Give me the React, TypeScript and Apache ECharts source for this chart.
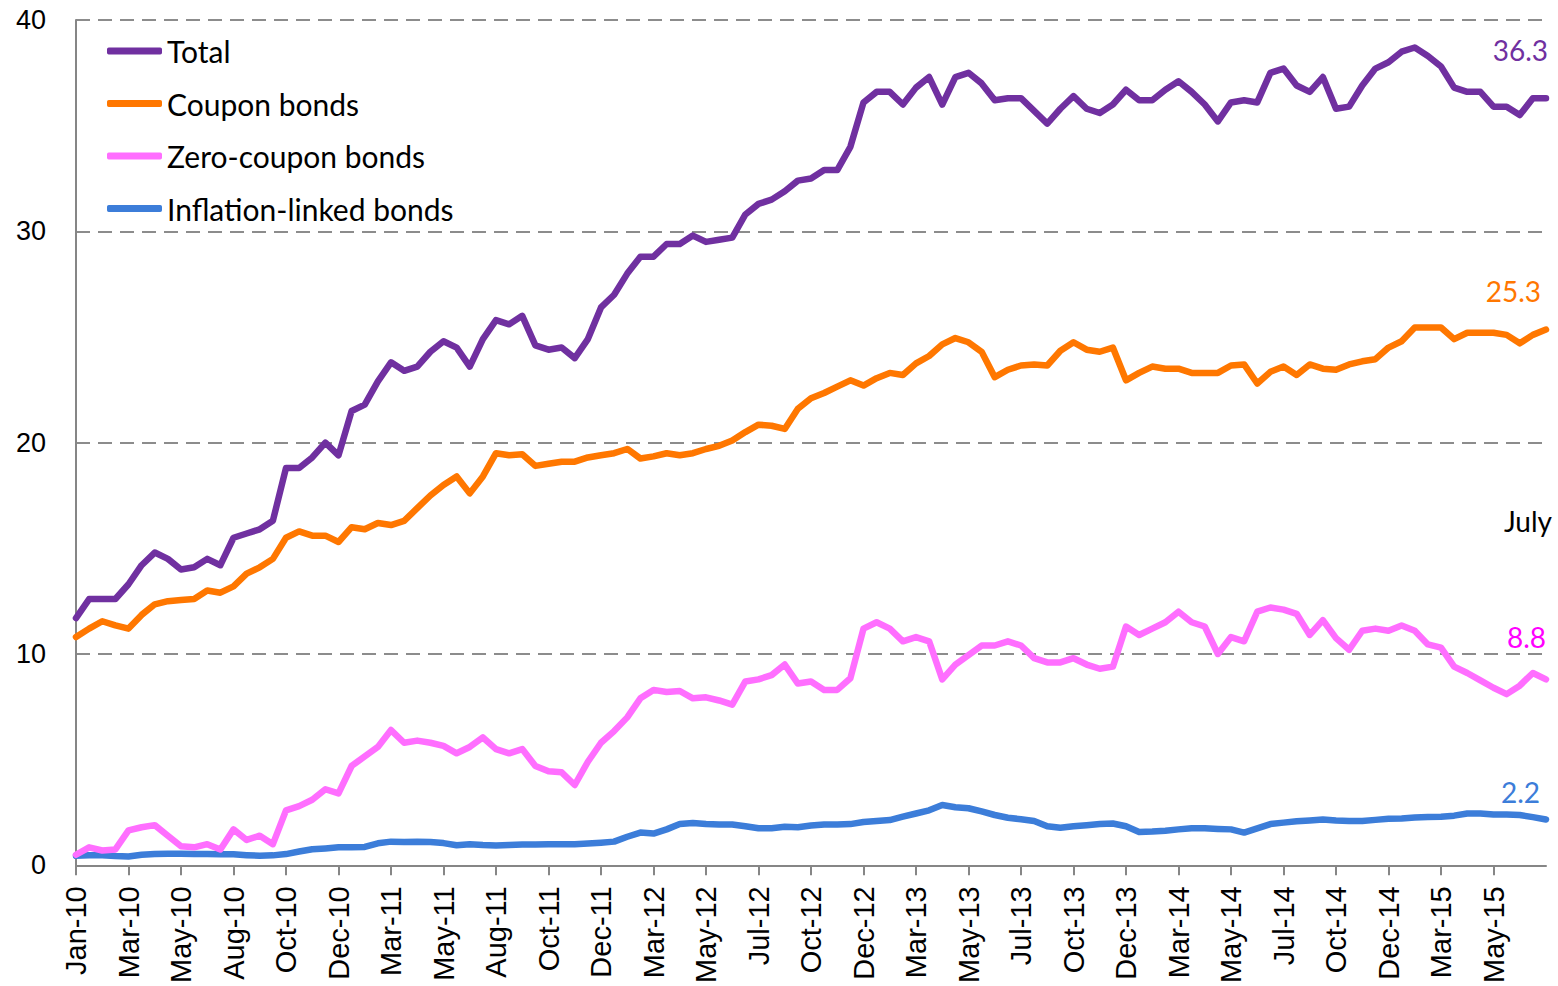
import React, { useEffect, useRef } from "react";
import * as echarts from "echarts";

const tickLabels = [
  "Jan-10", "Mar-10", "May-10", "Aug-10", "Oct-10", "Dec-10", "Mar-11", "May-11",
  "Aug-11", "Oct-11", "Dec-11", "Mar-12", "May-12", "Jul-12", "Oct-12", "Dec-12",
  "Mar-13", "May-13", "Jul-13", "Oct-13", "Dec-13", "Mar-14", "May-14", "Jul-14",
  "Oct-14", "Dec-14", "Mar-15", "May-15",
];

const seriesNames = ["Total", "Coupon bonds", "Zero-coupon bonds", "Inflation-linked bonds"];
const seriesColors = ["#7030A0", "#FF7700", "#FF6EFF", "#3C7DD9"];
const endLabels = ["36.3", "25.3", "8.8", "2.2"];
const endLabelColors = ["#7030A0", "#FF7700", "#FF00FF", "#3C7DD9"];

const total = [
  11.7, 12.6, 12.6, 12.6, 13.3, 14.2, 14.8, 14.5, 14.0, 14.1,
  14.5, 14.2, 15.5, 15.7, 15.9, 16.3, 18.8, 18.8, 19.3, 20.0,
  19.4, 21.5, 21.8, 22.9, 23.8, 23.4, 23.6, 24.3, 24.8, 24.5,
  23.6, 24.9, 25.8, 25.6, 26.0, 24.6, 24.4, 24.5, 24.0, 24.9,
  26.4, 27.0, 28.0, 28.8, 28.8, 29.4, 29.4, 29.8, 29.5, 29.6,
  29.7, 30.8, 31.3, 31.5, 31.9, 32.4, 32.5, 32.9, 32.9, 34.0,
  36.1, 36.6, 36.6, 36.0, 36.8, 37.3, 36.0, 37.3, 37.5, 37.0,
  36.2, 36.3, 36.3, 35.7, 35.1, 35.8, 36.4, 35.8, 35.6, 36.0,
  36.7, 36.2, 36.2, 36.7, 37.1, 36.6, 36.0, 35.2, 36.1, 36.2,
  36.1, 37.5, 37.7, 36.9, 36.6, 37.3, 35.8, 35.9, 36.9, 37.7,
  38.0, 38.5, 38.7, 38.3, 37.8, 36.8, 36.6, 36.6, 35.9, 35.9,
  35.5, 36.3, 36.3,
];

const coupon = [
  10.8, 11.2, 11.55, 11.35, 11.2, 11.85, 12.35, 12.5, 12.55, 12.6,
  13.0, 12.9, 13.2, 13.8, 14.1, 14.5, 15.5, 15.8, 15.6, 15.6,
  15.3, 16.0, 15.9, 16.2, 16.1, 16.3, 16.9, 17.5, 18.0, 18.4,
  17.6, 18.4, 19.5, 19.4, 19.45, 18.9, 19.0, 19.1, 19.1, 19.3,
  19.4, 19.5, 19.7, 19.25, 19.35, 19.5, 19.4, 19.5, 19.7, 19.85,
  20.1, 20.5, 20.85, 20.8, 20.65, 21.6, 22.1, 22.35, 22.65, 22.95,
  22.7, 23.05, 23.3, 23.2, 23.75, 24.1, 24.65, 24.95, 24.75, 24.3,
  23.1, 23.45, 23.65, 23.7, 23.65, 24.35, 24.75, 24.4, 24.3, 24.5,
  22.95, 23.3, 23.6, 23.5, 23.5, 23.3, 23.3, 23.3, 23.65, 23.7,
  22.8, 23.35, 23.6, 23.2, 23.7, 23.5, 23.45, 23.7, 23.85, 23.95,
  24.5, 24.8, 25.45, 25.45, 25.45, 24.9, 25.2, 25.2, 25.2, 25.1,
  24.7, 25.1, 25.35,
];

const zeroCoupon = [
  0.5, 0.85, 0.7, 0.75, 1.65, 1.8, 1.9, 1.4, 0.9, 0.85,
  1.0, 0.75, 1.7, 1.2, 1.4, 1.0, 2.6, 2.8, 3.1, 3.6,
  3.4, 4.7, 5.15, 5.6, 6.4, 5.8, 5.9, 5.8, 5.65, 5.3,
  5.6, 6.05, 5.5, 5.3, 5.5, 4.7, 4.45, 4.4, 3.8, 4.9,
  5.8, 6.35, 7.0, 7.9, 8.3, 8.2, 8.25, 7.9, 7.95, 7.8,
  7.6, 8.7, 8.8, 9.0, 9.5, 8.6, 8.7, 8.3, 8.3, 8.85,
  11.2, 11.5, 11.2, 10.6, 10.8, 10.6, 8.8, 9.5, 9.95, 10.4,
  10.4, 10.6, 10.4, 9.8, 9.6, 9.6, 9.8, 9.5, 9.3, 9.4,
  11.3, 10.9, 11.2, 11.5, 12.0, 11.5, 11.3, 10.0, 10.8, 10.6,
  12.0, 12.2, 12.1, 11.9, 10.9, 11.6, 10.75, 10.2, 11.1, 11.2,
  11.1, 11.35, 11.1, 10.45, 10.3, 9.4, 9.1, 8.75, 8.4, 8.1,
  8.5, 9.1, 8.8,
];

const inflationLinked = [
  0.45, 0.47, 0.48, 0.44, 0.42, 0.5, 0.53, 0.55, 0.55, 0.54,
  0.53, 0.52, 0.52, 0.48, 0.45, 0.47, 0.53, 0.65, 0.76, 0.8,
  0.85, 0.85, 0.87, 1.04, 1.12, 1.1, 1.12, 1.1, 1.05, 0.95,
  1.0, 0.96, 0.94, 0.96, 0.98, 0.98, 1.0, 1.0, 1.0, 1.03,
  1.07, 1.12, 1.35, 1.55, 1.5, 1.7, 1.95, 2.0, 1.95, 1.93,
  1.93, 1.85, 1.75, 1.75, 1.82, 1.8, 1.88, 1.93, 1.93, 1.95,
  2.05, 2.1, 2.14, 2.3, 2.45, 2.6, 2.85, 2.75, 2.7, 2.55,
  2.38, 2.25, 2.18, 2.1, 1.85, 1.78, 1.85, 1.9, 1.95, 1.98,
  1.85, 1.58, 1.6, 1.64, 1.7, 1.75, 1.75, 1.72, 1.7, 1.55,
  1.75, 1.95, 2.02, 2.08, 2.12, 2.17, 2.12, 2.1, 2.1, 2.15,
  2.2, 2.22, 2.26, 2.28, 2.3, 2.35, 2.45, 2.45, 2.4, 2.4,
  2.38, 2.28, 2.17,
];

const STEP = 4; // data points per labelled tick interval

export default function App() {
  const ref = useRef<HTMLDivElement>(null);

  useEffect(() => {
    document.body.style.margin = "0";
    document.body.style.overflow = "hidden";
    document.documentElement.style.overflow = "hidden";
    if (!ref.current) return;
    const chart = echarts.init(ref.current, null, { renderer: "svg" });

    const categories = total.map((_, i) =>
      i % STEP === 0 && i / STEP < tickLabels.length ? tickLabels[i / STEP] : "d" + i
    );
    const showTick = (idx: number) => idx % STEP === 0 && idx / STEP < tickLabels.length;
    const allData = [total, coupon, zeroCoupon, inflationLinked];

    const option: any = {
      animation: false,
      backgroundColor: "#ffffff",
      grid: { left: 76, top: 20, right: 12, bottom: 118, containLabel: false },
      legend: {
        data: seriesNames,
        orient: "vertical",
        left: 107,
        top: 33,
        padding: 0,
        icon: "roundRect",
        itemWidth: 55,
        itemHeight: 7,
        itemGap: 16.5,
        textStyle: { fontFamily: "Lato", fontSize: 30, color: "#000", lineHeight: 36 },
      },
      xAxis: {
        type: "category",
        data: categories,
        boundaryGap: false,
        axisLine: { show: true, lineStyle: { color: "#868686", width: 2 } },
        axisTick: { show: true, interval: showTick, length: 10, lineStyle: { color: "#868686", width: 2 } },
        axisLabel: {
          interval: showTick,
          rotate: 90,
          margin: 21,
          fontFamily: "Liberation Sans",
          fontSize: 29,
          color: "#000",
        },
        splitLine: { show: false },
      },
      yAxis: {
        type: "value",
        min: 0,
        max: 40,
        interval: 10,
        axisLine: { show: true, lineStyle: { color: "#868686", width: 2 } },
        axisTick: { show: false },
        axisLabel: { margin: 30, fontFamily: "Liberation Sans", fontSize: 27, color: "#000" },
        splitLine: { show: true, lineStyle: { color: "#8c8c8c", width: 2, type: [14, 8] } },
      },
      series: seriesNames.map((name, k) => ({
        name,
        type: "line",
        data: allData[k],
        showSymbol: false,
        symbol: "none",
        color: seriesColors[k],
        lineStyle: { width: 6.5, color: seriesColors[k], cap: "round", join: "round" },
        z: 10 - k,
      })),
      graphic: [
        { type: "text", x: 1548, y: 50, style: { text: endLabels[0], align: "right", verticalAlign: "middle", fill: endLabelColors[0], font: "28px Lato" } },
        { type: "text", x: 1541, y: 291, style: { text: endLabels[1], align: "right", verticalAlign: "middle", fill: endLabelColors[1], font: "28px Lato" } },
        { type: "text", x: 1552, y: 521, style: { text: "July", align: "right", verticalAlign: "middle", fill: "#000", font: "28px Lato" } },
        { type: "text", x: 1546, y: 637, style: { text: endLabels[2], align: "right", verticalAlign: "middle", fill: endLabelColors[2], font: "28px Lato" } },
        { type: "text", x: 1540, y: 792, style: { text: endLabels[3], align: "right", verticalAlign: "middle", fill: endLabelColors[3], font: "28px Lato" } },
      ],
    };

    chart.setOption(option);
    return () => chart.dispose();
  }, []);

  return (
    <div
      ref={ref}
      style={{ position: "fixed", left: 0, top: 0, width: 1558, height: 986, overflow: "hidden", background: "#fff" }}
    />
  );
}
